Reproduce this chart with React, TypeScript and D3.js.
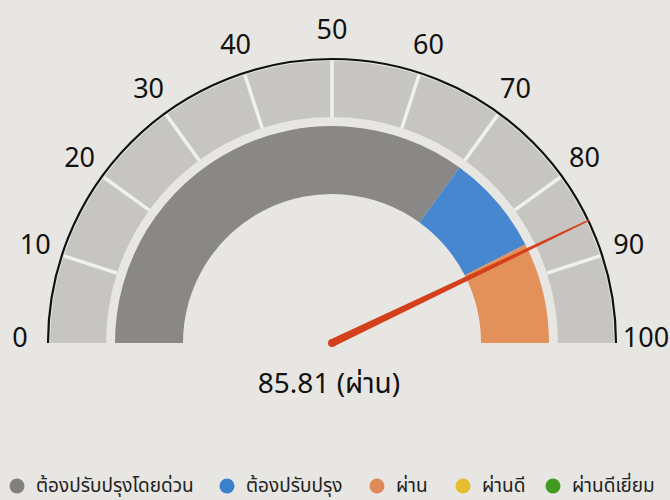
import React, { useEffect, useRef } from "react";
import * as d3 from "d3";

const tickValues = [0, 10, 20, 30, 40, 50, 60, 70, 80, 90, 100];
const bandStarts = [0, 70, 85];
const bandEnds = [70, 85, 100];
const bandColors = ["#8a8886", "#4787cf", "#e3915a"];
const legendLabels = ["ต้องปรับปรุงโดยด่วน", "ต้องปรับปรุง", "ผ่าน", "ผ่านดี", "ผ่านดีเยี่ยม"];
const legendColors = ["#82807f", "#3b80cc", "#df8a58", "#e6bd2e", "#3f9a1f"];
const legendX = [17, 227, 377, 463, 553];
const gaugeValue = 85.81;
const gaugeStatus = "ผ่าน";

const FONT = "'Noto Sans Thai', 'Noto Sans', 'Open Sans', sans-serif";

export default function App() {
  const ref = useRef<SVGSVGElement>(null);

  useEffect(() => {
    const svg = d3.select(ref.current);
    svg.selectAll("*").remove();
    const cx = 332,
      cy = 343;

    svg.append("rect").attr("width", 670).attr("height", 500).attr("fill", "#e7e6e2");

    // d3.arc angle: 0 at top, clockwise
    const ang = d3.scaleLinear().domain([0, 100]).range([-Math.PI / 2, Math.PI / 2]);
    const g = svg.append("g").attr("transform", `translate(${cx},${cy})`);

    // outer scale band
    const outerArc = d3.arc<any>().innerRadius(226).outerRadius(282);
    g.selectAll(".seg")
      .data(d3.range(10))
      .enter()
      .append("path")
      .attr("d", (d) => outerArc({ startAngle: ang(d * 10), endAngle: ang(d * 10 + 10) }))
      .attr("fill", "#c6c5c2");

    g.selectAll(".sep")
      .data(tickValues.slice(1, -1))
      .enter()
      .append("line")
      .attr("x1", (d) => 226 * Math.sin(ang(d)))
      .attr("y1", (d) => -226 * Math.cos(ang(d)))
      .attr("x2", (d) => 282 * Math.sin(ang(d)))
      .attr("y2", (d) => -282 * Math.cos(ang(d)))
      .attr("stroke", "#f0f0ee")
      .attr("stroke-width", 3.5);

    // black rim
    const rim = d3.arc<any>().innerRadius(284).outerRadius(284);
    g.append("path")
      .attr("d", rim({ startAngle: ang(0), endAngle: ang(100) }))
      .attr("fill", "none")
      .attr("stroke", "#111")
      .attr("stroke-width", 2.2);

    // colored inner band
    const innerArc = d3.arc<any>().innerRadius(149).outerRadius(217);
    g.selectAll(".band")
      .data(bandStarts)
      .enter()
      .append("path")
      .attr("d", (d, i) => innerArc({ startAngle: ang(d), endAngle: ang(bandEnds[i]) }))
      .attr("fill", (d, i) => bandColors[i]);

    // tick labels
    g.selectAll(".lbl")
      .data(tickValues)
      .enter()
      .append("text")
      .attr("x", (d) => 312 * Math.sin(ang(d)) + (d === 100 ? 2 : 0))
      .attr("y", (d) => -312 * Math.cos(ang(d)) - (d === 0 || d === 100 ? 4 : 0))
      .attr("text-anchor", "middle")
      .attr("dominant-baseline", "middle")
      .style("font-family", FONT)
      .style("font-size", "27px")
      .attr("fill", "#111")
      .text((d) => d);

    // needle
    const a = ang(gaugeValue);
    const ux = Math.sin(a),
      uy = -Math.cos(a);
    const px = -uy,
      py = ux;
    const len = 285,
      w0 = 4,
      w1 = 0.8;
    const pts: [number, number][] = [
      [px * w0, py * w0],
      [ux * len + px * w1, uy * len + py * w1],
      [ux * len - px * w1, uy * len - py * w1],
      [-px * w0, -py * w0],
    ];
    g.append("path")
      .attr("d", d3.line()(pts) + "Z")
      .attr("fill", "#d5401c");
    g.append("circle").attr("r", w0).attr("fill", "#d5401c");

    // value label
    svg.append("text")
      .attr("x", 329)
      .attr("y", 385)
      .attr("text-anchor", "middle")
      .attr("dominant-baseline", "middle")
      .style("font-family", FONT)
      .style("font-size", "28px")
      .attr("fill", "#111")
      .text(`${gaugeValue} (${gaugeStatus})`);

    // legend
    const lg = svg.append("g");
    legendLabels.forEach((name, i) => {
      lg.append("circle")
        .attr("cx", legendX[i])
        .attr("cy", 486)
        .attr("r", 7.5)
        .attr("fill", legendColors[i]);
      lg.append("text")
        .attr("x", legendX[i] + 19)
        .attr("y", 487)
        .attr("dominant-baseline", "middle")
        .style("font-family", FONT)
        .style("font-size", "19px")
        .attr("fill", "#222")
        .text(name);
    });
  }, []);

  return (
    <svg
      ref={ref}
      width={670}
      height={500}
      style={{ position: "absolute", left: 0, top: 0 }}
    />
  );
}
